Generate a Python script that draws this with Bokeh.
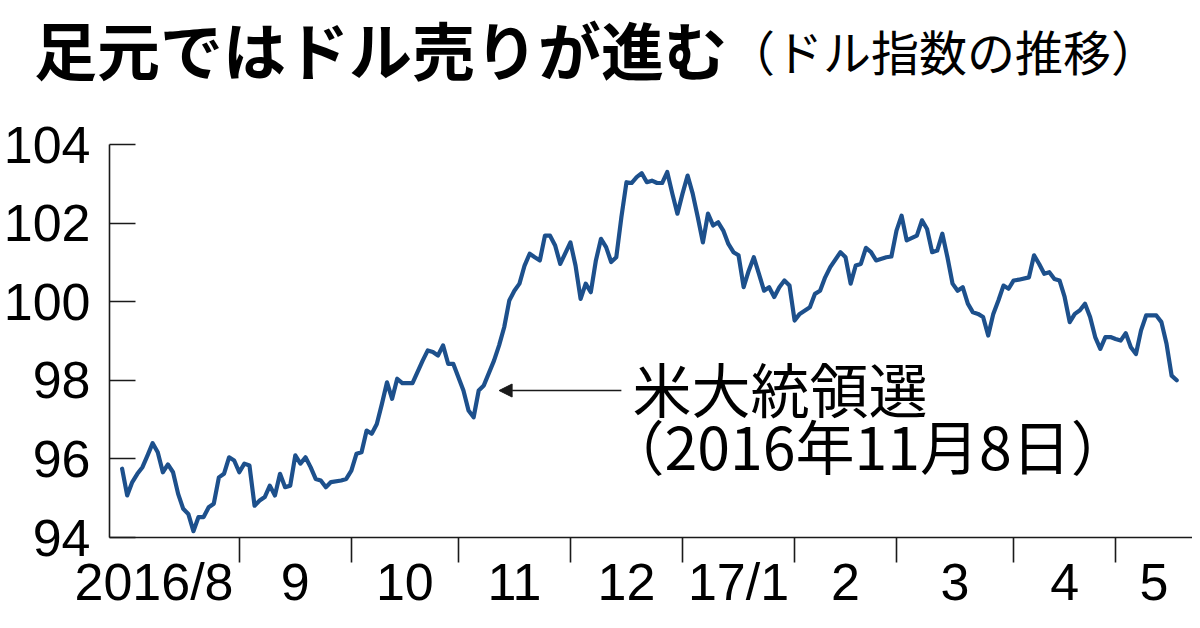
import numpy as np
import pandas as pd
from bokeh.plotting import figure
from bokeh.layouts import column
from bokeh.models import (Range1d, FixedTicker, CustomJSTickFormatter, Label,
                          Arrow, NormalHead, ColumnDataSource, Div)
from bokeh.embed import file_html
from bokeh.resources import INLINE

# ---------------- data ----------------
dates = [
    "2016-08-01", "2016-08-02", "2016-08-03", "2016-08-04", "2016-08-05",
    "2016-08-08", "2016-08-09", "2016-08-10", "2016-08-11", "2016-08-12",
    "2016-08-15", "2016-08-16", "2016-08-17", "2016-08-18", "2016-08-19",
    "2016-08-22", "2016-08-23", "2016-08-24", "2016-08-25", "2016-08-26",
    "2016-08-29", "2016-08-30", "2016-08-31", "2016-09-01", "2016-09-02",
    "2016-09-05", "2016-09-06", "2016-09-07", "2016-09-08", "2016-09-09",
    "2016-09-12", "2016-09-13", "2016-09-14", "2016-09-15", "2016-09-16",
    "2016-09-19", "2016-09-20", "2016-09-21", "2016-09-22", "2016-09-23",
    "2016-09-26", "2016-09-27", "2016-09-29", "2016-09-30",
    "2016-10-03", "2016-10-04", "2016-10-05", "2016-10-06", "2016-10-07",
    "2016-10-10", "2016-10-11", "2016-10-12", "2016-10-13", "2016-10-14",
    "2016-10-17", "2016-10-19", "2016-10-21",
    "2016-10-24", "2016-10-25", "2016-10-26", "2016-10-27", "2016-10-28",
    "2016-10-31", "2016-11-02", "2016-11-03", "2016-11-04",
    "2016-11-07", "2016-11-08", "2016-11-10", "2016-11-11",
    "2016-11-14", "2016-11-15", "2016-11-16", "2016-11-17", "2016-11-18",
    "2016-11-21", "2016-11-22", "2016-11-23", "2016-11-24", "2016-11-25",
    "2016-11-28", "2016-11-29", "2016-12-01", "2016-12-02",
    "2016-12-05", "2016-12-06", "2016-12-07", "2016-12-08", "2016-12-09",
    "2016-12-12", "2016-12-13", "2016-12-14", "2016-12-15", "2016-12-16",
    "2016-12-19", "2016-12-20", "2016-12-21", "2016-12-22", "2016-12-23",
    "2016-12-26", "2016-12-27", "2016-12-28", "2016-12-29", "2016-12-30",
    "2017-01-02", "2017-01-03", "2017-01-04", "2017-01-05", "2017-01-06",
    "2017-01-09", "2017-01-10", "2017-01-11", "2017-01-12", "2017-01-13",
    "2017-01-16", "2017-01-17", "2017-01-18", "2017-01-19", "2017-01-20",
    "2017-01-23", "2017-01-24", "2017-01-25", "2017-01-26", "2017-01-27",
    "2017-01-30", "2017-01-31", "2017-02-01", "2017-02-02",
    "2017-02-06", "2017-02-07", "2017-02-08", "2017-02-09", "2017-02-10",
    "2017-02-14", "2017-02-15", "2017-02-16", "2017-02-17",
    "2017-02-20", "2017-02-21", "2017-02-22", "2017-02-23",
    "2017-02-27", "2017-02-28", "2017-03-01", "2017-03-02", "2017-03-03",
    "2017-03-07", "2017-03-08", "2017-03-09", "2017-03-10",
    "2017-03-13", "2017-03-14", "2017-03-15", "2017-03-16", "2017-03-17",
    "2017-03-20", "2017-03-21", "2017-03-22", "2017-03-23", "2017-03-24",
    "2017-03-27", "2017-03-28", "2017-03-29", "2017-03-30", "2017-03-31",
    "2017-04-03", "2017-04-04", "2017-04-06", "2017-04-07",
    "2017-04-10", "2017-04-11", "2017-04-12", "2017-04-13", "2017-04-14",
    "2017-04-17", "2017-04-18", "2017-04-19", "2017-04-20", "2017-04-21",
    "2017-04-24", "2017-04-25", "2017-04-26", "2017-04-27", "2017-04-28",
    "2017-05-01", "2017-05-02", "2017-05-03", "2017-05-04", "2017-05-05",
    "2017-05-08", "2017-05-09", "2017-05-11", "2017-05-12",
    "2017-05-15", "2017-05-16", "2017-05-17",
]
dollar_index = [
    95.75, 95.07, 95.41, 95.62, 95.79,
    96.09, 96.40, 96.17, 95.66, 95.86,
    95.66, 95.11, 94.73, 94.60, 94.16,
    94.52, 94.52, 94.77, 94.86, 95.53,
    95.62, 96.04, 95.96, 95.66, 95.88,
    95.83, 94.81, 94.94, 95.03, 95.32,
    95.07, 95.62, 95.28, 95.32, 96.09,
    95.88, 96.04, 95.79, 95.49, 95.45,
    95.28, 95.41, 95.45, 95.49,
    95.70, 96.13, 96.17, 96.72, 96.64,
    96.89, 97.40, 97.95, 97.53, 98.04,
    97.93, 97.93, 98.50,
    98.76, 98.72, 98.63, 98.89, 98.42,
    98.42, 97.74, 97.23, 97.06,
    97.74, 97.87, 98.50, 98.89,
    99.35, 100.03, 100.28, 100.46, 100.92,
    101.22, 101.13, 101.05, 101.68, 101.68,
    101.43, 100.96, 101.51, 100.92,
    100.07, 100.46, 100.24, 101.05, 101.60,
    101.39, 101.01, 101.13, 102.15, 103.04,
    103.02, 103.17, 103.27, 103.04, 103.08,
    103.02, 103.02, 103.30, 102.75, 102.24,
    102.75, 103.21, 102.75, 102.15, 101.51,
    102.24, 101.94, 102.02, 101.81, 101.47,
    101.26, 101.18, 100.37, 100.79, 101.13,
    100.71, 100.28, 100.37, 100.12, 100.37,
    100.54, 100.41, 99.52, 99.69,
    99.86, 100.20, 100.28, 100.62, 100.88,
    101.26, 101.13, 100.46, 100.92,
    100.96, 101.37, 101.26, 101.05,
    101.13, 101.15, 101.81, 102.19, 101.56,
    101.68, 102.07, 101.85, 101.26,
    101.30, 101.73, 101.13, 100.46, 100.28,
    100.37, 99.95, 99.73, 99.69, 99.61,
    99.14, 99.69, 100.03, 100.41, 100.33,
    100.54, 100.56, 100.62, 101.18,
    100.96, 100.71, 100.75, 100.58, 100.54,
    100.12, 99.48, 99.69, 99.78, 99.95,
    99.61, 99.10, 98.80, 99.10, 99.10,
    99.05, 99.01, 99.20, 98.84, 98.67,
    99.27, 99.65, 99.65, 99.48,
    98.93, 98.12, 98.00,
]
month_labels = ["2016/8", "9", "10", "11", "12", "17/1", "2", "3", "4", "5"]
y_ticks = [94, 96, 98, 100, 102, 104]
election_date = "2016-11-08"

title_main = "足元ではドル売りが進む"
title_sub = "（ドル指数の推移）"
note_line1 = "米大統領選"
note_line2 = "（2016年11月8日）"

# ---------------- business-day axis ----------------
cal = pd.bdate_range("2016-08-01", "2017-05-19")
pos = {d.strftime("%Y-%m-%d"): i for i, d in enumerate(cal)}
xs = [pos[d] for d in dates]

x_start, x_end = -2.47, 210.1
months = pd.Series(range(len(cal)), index=cal)
month_starts = [int(g.iloc[0]) for _, g in months.groupby([cal.year, cal.month])]
boundaries = month_starts[1:]
edges = [x_start] + boundaries + [x_end]
label_pos = [(a + b) / 2 for a, b in zip(edges[:-1], edges[1:])]
label_pos[0] = label_pos[0] - 4.0

NUM = "Liberation Sans"
JP = "Noto Sans CJK JP"
LINE = "#1d508c"
INK = "#1a1a1a"

p = figure(width=1192, height=524, output_backend="svg", toolbar_location=None,
           x_range=Range1d(x_start, x_end), y_range=Range1d(94, 104),
           min_border_left=107, min_border_right=0, min_border_top=48,
           min_border_bottom=83, outline_line_color=None,
           background_fill_color="white", border_fill_color="white")
p.xgrid.visible = False
p.ygrid.visible = False

src = ColumnDataSource(dict(x=xs, y=dollar_index))
p.line("x", "y", source=src, line_width=4.2, line_color=LINE,
       line_join="round", line_cap="round")

# y axis
ya = p.yaxis[0]
ya.ticker = FixedTicker(ticks=y_ticks)
ya.major_tick_in = 26
ya.major_tick_out = 0
ya.minor_tick_in = 0
ya.minor_tick_out = 0
ya.minor_tick_line_color = None
ya.axis_line_color = INK
ya.axis_line_width = 1.6
ya.major_tick_line_color = INK
ya.major_tick_line_width = 1.6
ya.major_label_text_font = NUM
ya.major_label_text_font_size = "52px"
ya.major_label_text_color = "black"
ya.major_label_standoff = 19

# x axis
xa = p.xaxis[0]
xa.ticker = FixedTicker(ticks=label_pos, minor_ticks=boundaries)
xa.formatter = CustomJSTickFormatter(args=dict(pos=label_pos, labels=month_labels), code="""
    for (let i = 0; i < pos.length; i++) {
        if (Math.abs(pos[i] - tick) < 1e-6) return labels[i];
    }
    return '';
""")
xa.major_tick_line_color = None
xa.major_tick_in = 0
xa.major_tick_out = 0
xa.minor_tick_in = 0
xa.minor_tick_out = 25
xa.minor_tick_line_color = INK
xa.minor_tick_line_width = 1.6
xa.axis_line_color = INK
xa.axis_line_width = 1.6
xa.major_label_text_font = NUM
xa.major_label_text_font_size = "52px"
xa.major_label_text_color = "black"
xa.major_label_standoff = -10

# annotation for the election
e_idx = pos[election_date]
e_val = dollar_index[dates.index(election_date)]
p.add_layout(Arrow(end=NormalHead(size=13, fill_color=INK, line_color=INK),
                   x_start=e_idx + 27, y_start=e_val - 0.13,
                   x_end=e_idx + 3, y_end=e_val - 0.13,
                   line_color=INK, line_width=1.6))
p.add_layout(Label(x=e_idx + 29.2, y=e_val - 0.06, text=note_line1, text_font=JP,
                   text_font_size="59px", text_color="black",
                   text_baseline="middle", text_align="left"))
p.add_layout(Label(x=e_idx + 23.9, y=e_val - 1.50, text=note_line2, text_font=JP,
                   text_font_size="59px", text_color="black",
                   text_baseline="middle", text_align="left"))

# title block
title_html = (
    "<div style=\"white-space:nowrap; padding:2px 0 0 34px; line-height:normal; "
    "font-family:'Noto Sans CJK JP'; color:black;\">"
    f"<span style=\"font-size:63px; font-weight:bold;\">{title_main}</span>"
    f"<span style=\"font-size:48px; position:relative; top:-4px;\">{title_sub}</span>"
    "</div>"
)
head = Div(text=title_html, width=1192, height=96, margin=0)

layout = column(head, p, spacing=0)
open("out.html", "w").write(file_html(layout, INLINE))
